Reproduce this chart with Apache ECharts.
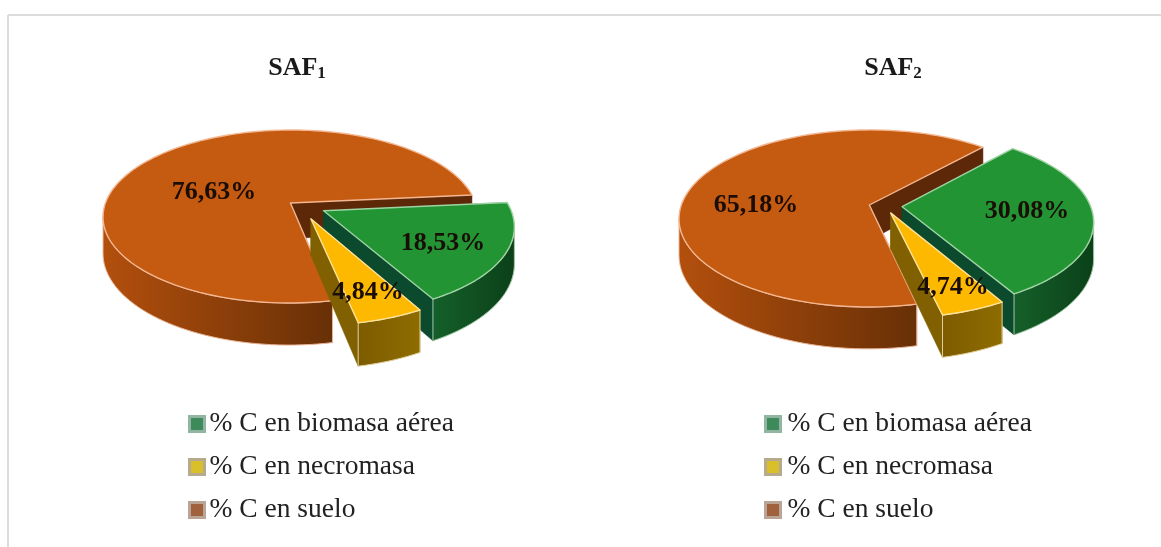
<!DOCTYPE html>
<html><head><meta charset="utf-8">
<style>html,body{margin:0;padding:0;background:#fff}#c{width:1161px;height:547px;filter:blur(0.5px)}</style>
<script src="https://cdn.jsdelivr.net/npm/echarts@6/dist/echarts.min.js"></script>
</head><body><div id="c"></div>
<script>
// ---- data ----
const categories = ['% C en biomasa aérea', '% C en necromasa', '% C en suelo'];
const saf1Values = [18.53, 4.84, 76.63];
const saf2Values = [30.08, 4.74, 65.18];

// ---- layout of the two tilted pies (disc units -> screen) ----
const pies = [
  { ax: 296, ay: 203, A: 84.4, B: 185, c: 0.156, H: 35.5, start: 5.5,
    off: [[0.147, -0.09], [0.078, -0.182], [-0.03, 0]],
    labels: [[443, 243], [368, 292], [214, 192]], values: saf1Values },
  { ax: 875, ay: 205, A: 86.5, B: 188, c: 0.152, H: 35.5, start: 48,
    off: [[0.144, -0.02], [0.082, -0.09], [-0.03, 0]],
    labels: [[1027, 211], [953, 287], [756, 205]], values: saf2Values }
];
const styles = [
  { top: '#229433', edge: '#9fd3a4', radial: '#0b4a2c', wall: ['#15602a', '#0b4018'], wallEdge: '#9fc4a4' },
  { top: '#fcb900', edge: '#ffe39a', radial: '#806000', wall: ['#7d5c00', '#8f6c00'], wallEdge: '#e0cf9a' },
  { top: '#c55a11', edge: '#f3b792', radial: '#5c2808', wall: ['#b34f0d', '#683006'], wallEdge: '#e8b596' }
];

function sliceAngles(p) {
  const out = []; let a = p.start;
  p.values.forEach(v => { const s = v / 100 * 360; out.push([a, a - s]); a -= s; });
  return out;
}
function project(p, u, v, down) {
  const w = 1 + p.c * v;
  return [p.ax + p.B * u / w, p.ay + (-p.A * v + (down ? p.H : 0)) / w];
}
function arc(a0, a1) {
  const r = [], n = Math.max(2, Math.ceil(Math.abs(a1 - a0) / 2));
  for (let i = 0; i <= n; i++) r.push((a0 + (a1 - a0) * i / n) * Math.PI / 180);
  return r;
}
function renderSlice(catIdx) {
  return function (params, api) {
    const p = pies[api.value(0)], st = styles[catIdx];
    const [a0, a1] = sliceAngles(p)[catIdx], [du, dv] = p.off[catIdx];
    const pt = (r, t, d) => project(p, du + r * Math.cos(t), dv + r * Math.sin(t), d);
    const rs = arc(a0, a1);
    const apex = project(p, du, dv, false), apexD = project(p, du, dv, true);
    const ch = [];
    const poly = (points, fill, stroke, lw) => ch.push({ type: 'polygon', shape: { points },
      style: { fill, stroke: stroke || fill, lineWidth: lw || 0.5, lineJoin: 'round' } });
    // radial walls
    [rs[0], rs[rs.length - 1]].forEach(t =>
      poly([apex, pt(1, t, false), pt(1, t, true), apexD], st.radial, st.radial));
    // outer wall, only where it faces the viewer
    const front = rs.filter(t => Math.sin(t) <= -p.c);
    if (front.length > 1) {
      const up = front.map(t => pt(1, t, false)), dn = front.map(t => pt(1, t, true)).reverse();
      poly(up.concat(dn), new echarts.graphic.LinearGradient(0, 0, 1, 0,
        [{ offset: 0, color: st.wall[0] }, { offset: 1, color: st.wall[1] }]), st.wallEdge, 1);
    }
    // top face
    poly([apex].concat(rs.map(t => pt(1, t, false))), st.top, st.edge, 1.4);
    // value label
    const lab = p.labels[catIdx];
    ch.push({ type: 'text', x: lab[0], y: lab[1], z2: 100, silent: true, style: {
      text: api.value(1).toFixed(2).replace('.', ',') + '%', fill: '#1a0d05',
      font: 'bold 26px "Liberation Serif"', align: 'center', verticalAlign: 'middle' } });
    return { type: 'group', children: ch };
  };
}
const drawOrder = [2, 0, 1];
const series = drawOrder.map(i => ({
  type: 'custom', name: categories[i], coordinateSystem: 'none', silent: true,
  renderItem: renderSlice(i),
  data: pies.map((p, k) => [k, p.values[i]])
}));
const legendColors = [
  { color: '#3f8a5c', borderColor: '#92b5a2' },
  { color: '#d9c02a', borderColor: '#b5a98e' },
  { color: '#a0623c', borderColor: '#b9a596' }
];
const makeLegend = (left, textPad) => ({
  left, top: 410, padding: 0, orient: 'vertical', itemWidth: 15, itemHeight: 15, itemGap: 15,
  selectedMode: false, icon: 'rect',
  textStyle: { fontFamily: 'Liberation Serif', fontSize: 27.5, color: '#222', padding: [0, 0, 0, textPad] },
  data: categories.map((n, i) => ({ name: n, icon: 'rect',
    itemStyle: { color: legendColors[i].color, borderColor: legendColors[i].borderColor, borderWidth: 3 } }))
});
const makeTitle = (n, x) => ({
  text: '{m|SAF}{s|' + n + '}', left: x, top: 50, textAlign: 'center',
  textStyle: { rich: {
    m: { fontFamily: 'Liberation Serif', fontWeight: 'bold', fontSize: 26, color: '#1a1a1a' },
    s: { fontFamily: 'Liberation Serif', fontWeight: 'bold', fontSize: 17, color: '#1a1a1a', padding: [10, 0, 0, 0] }
  } }
});
const chart = echarts.init(document.getElementById('c'), null, { renderer: 'canvas' });
chart.setOption({
  backgroundColor: '#fff', animation: false,
  title: [makeTitle('1', 292), makeTitle('2', 888)],
  legend: [makeLegend(188, 0), makeLegend(764, 2)],
  series,
  graphic: [
    { type: 'line', shape: { x1: 8, y1: 15, x2: 1161, y2: 15 }, style: { stroke: '#dcdcdc', lineWidth: 2 } },
    { type: 'line', shape: { x1: 8, y1: 15, x2: 8, y2: 547 }, style: { stroke: '#dcdcdc', lineWidth: 2 } }
  ]
});
</script></body></html>
